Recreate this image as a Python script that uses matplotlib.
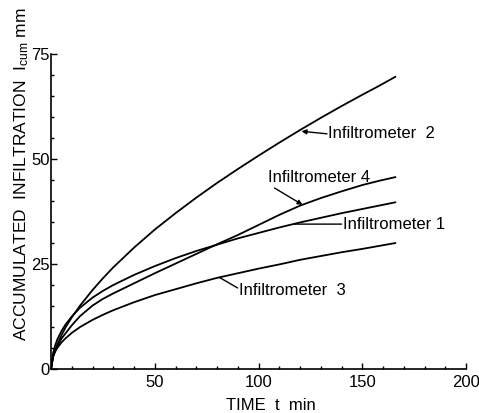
import matplotlib
matplotlib.use('Agg')
import matplotlib.pyplot as plt
from matplotlib.ticker import MultipleLocator, FixedLocator

plt.rcParams['font.family'] = ['Liberation Sans', 'DejaVu Sans']
plt.rcParams['mathtext.fontset'] = 'custom'
plt.rcParams['mathtext.rm'] = 'Liberation Serif'

# time (min) and accumulated infiltration (mm) for the four infiltrometers
time_min = [0, 1, 2, 3, 5, 7, 10, 14, 20, 25, 30, 40, 50, 60, 70, 80,
            90, 100, 110, 120, 130, 140, 150, 158, 166]
infil_1 = [0, 3.8, 5.6, 7.0, 9.0, 10.6, 12.5, 14.6, 17.0, 18.6, 20.0, 22.4, 24.5,
           26.4, 28.1, 29.6, 31.1, 32.4, 33.7, 34.9, 36.0, 37.1, 38.1, 38.9, 39.7]
infil_2 = [0, 3.0, 4.5, 5.8, 8.0, 9.9, 12.3, 15.1, 18.8, 21.6, 24.2, 28.9, 33.2,
           37.1, 40.8, 44.3, 47.6, 50.8, 53.9, 56.9, 59.8, 62.6, 65.3, 67.4, 69.6]
infil_3 = [0, 3.1, 4.2, 5.0, 6.3, 7.3, 8.6, 10.0, 11.7, 12.9, 14.0, 15.9, 17.6,
           19.0, 20.4, 21.7, 22.8, 23.9, 24.9, 26.0, 26.9, 27.8, 28.6, 29.3, 30.0]
infil_4 = [0, 2.9, 4.2, 5.4, 7.2, 8.5, 10.4, 12.6, 15.1, 16.7, 18.0, 20.4, 22.8,
           25.1, 27.4, 29.7, 31.9, 34.3, 36.7, 38.9, 40.7, 42.3, 43.8, 44.8, 45.7]

fig = plt.figure(figsize=(4.79, 4.13), dpi=100)
ax = fig.add_axes([0.1065, 0.1065, 0.8665, 0.7627])

for series in (infil_1, infil_2, infil_3, infil_4):
    ax.plot(time_min, series, color='black', lw=1.3,
            solid_capstyle='round', solid_joinstyle='round')

ax.set_xlim(0, 200)
ax.set_ylim(0, 75)
ax.spines['top'].set_visible(False)
ax.spines['right'].set_visible(False)
for s in ('left', 'bottom'):
    ax.spines[s].set_linewidth(1.2)

ax.xaxis.set_major_locator(FixedLocator([50, 100, 150, 200]))
ax.xaxis.set_minor_locator(MultipleLocator(10))
ax.yaxis.set_major_locator(MultipleLocator(25))
ax.yaxis.set_minor_locator(MultipleLocator(5))
ax.tick_params(which='both', direction='in', width=1.0, labelsize=12)
ax.tick_params(which='major', length=4)
ax.tick_params(which='minor', length=2.5)
ax.tick_params(axis='y', pad=1)
ax.tick_params(axis='x', pad=4)

fig.text(271 / 479, 1 - 405 / 413, 'TIME  t  min', ha='center', va='center', fontsize=12)
fig.text(22 / 479, 1 - 174 / 413,
         r'ACCUMULATED  INFILTRATION  $\mathregular{I_{cum}}$ mm',
         rotation=90, ha='center', va='center', fontsize=12.5)

lab = dict(fontsize=12, va='center', ha='left')
arrow = dict(arrowstyle='-|>', color='black', lw=1.0, mutation_scale=7,
             shrinkA=0, shrinkB=0)
line = dict(arrowstyle='-', color='black', lw=1.0, shrinkA=0, shrinkB=0)

ax.text(133.5, 56.0, 'Infiltrometer  2', **lab)
ax.annotate('', xy=(120.7, 56.6), xytext=(133.0, 56.0), arrowprops=arrow)

ax.text(104.5, 45.7, 'Infiltrometer 4', **lab)
ax.annotate('', xy=(121.2, 39.1), xytext=(107.7, 43.1), arrowprops=arrow)

ax.text(140.8, 34.5, 'Infiltrometer 1', **lab)
ax.annotate('', xy=(117.3, 34.5), xytext=(140.0, 34.5), arrowprops=line)

ax.text(90.8, 18.8, 'Infiltrometer  3', **lab)
ax.annotate('', xy=(81.2, 21.8), xytext=(89.9, 19.3), arrowprops=line)

fig.savefig('out.png', dpi=100)
